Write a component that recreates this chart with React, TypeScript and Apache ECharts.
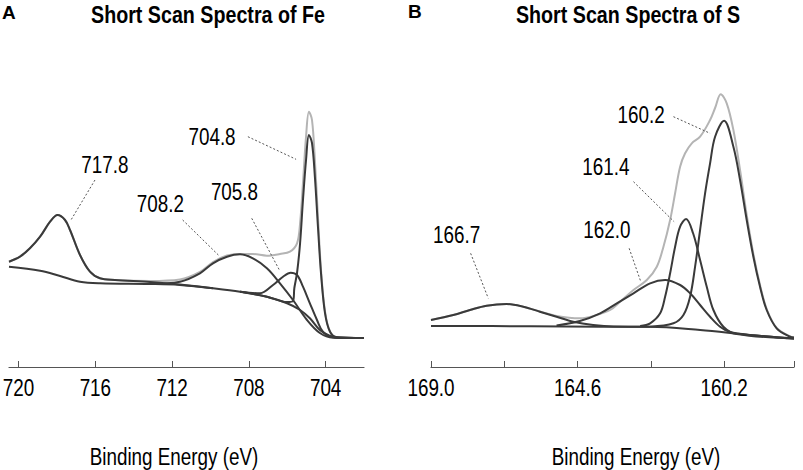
import React, { useEffect, useRef } from "react";
import * as echarts from "echarts";

// ---- Fe 2p panel (A) : [binding energy eV, intensity a.u.] ----
const feEnvelope = [[720.5,105.3],[719.93,110.3],[719.41,118.7],[718.88,130.3],[718.36,145.3],[717.97,152],[717.58,147],[717.32,137],[716.8,112],[716.28,95.3],[715.76,88.7],[714.98,87],[713.15,86],[711.59,87.5],[710.55,95],[709.87,105],[709.14,111.5],[708.46,113],[707.79,113],[707.06,111.3],[706.38,113],[705.86,115.3],[705.49,123.7],[705.33,144],[705.18,184],[705.02,230.3],[704.87,255.3],[704.71,247],[704.56,207],[704.4,150.3],[704.24,97],[704.03,55.3],[703.77,35.3],[703.41,29.7],[702.0,29]];
const feBackground = [[720.5,100.3],[718.88,96.3],[717.84,91],[716.8,85.3],[715.76,83.7],[713.15,83],[711.59,82],[709.87,78.7],[708.46,75.3],[707.06,70.3],[706.01,63.7],[705.33,57],[704.82,48.7],[704.3,37],[703.77,31],[703.25,29],[702.0,29]];
const fe717 = [[720.5,105.3],[719.93,110.3],[719.41,118.7],[718.88,130.3],[718.36,145.3],[717.97,152],[717.58,147],[717.32,137],[716.8,112],[716.28,95.3],[715.76,88.7],[714.98,87],[713.15,85],[711.59,82.5],[709.87,78.8]];
const fe708 = [[713.15,83.2],[711.59,85.3],[710.55,93.7],[709.87,103.7],[709.14,110.3],[708.46,112.7],[707.79,108.7],[707.06,98.7],[706.38,83.7],[705.7,67],[704.97,47],[704.3,34],[703.62,29.3],[702.0,29]];
const fe705 = [[708.46,75.3],[707.42,73.7],[706.74,82],[706.22,90.3],[705.82,94.3],[705.49,92],[705.18,80.3],[704.82,63.7],[704.45,47],[704.14,35.3],[703.62,30],[702.0,29]];
const fe704 = [[708.46,75.3],[707.06,70.3],[706.01,65],[705.7,66],[705.63,79],[705.49,94],[705.33,124],[705.18,167],[705.02,207],[704.87,232],[704.71,224],[704.56,190.3],[704.4,140.3],[704.24,93.7],[704.03,53.7],[703.77,35.3],[703.41,29.7],[702.0,29]];

// ---- S 2p panel (B) ----
const sEnvelope = [[169.0,47],[168.33,52],[167.83,57],[167.33,61.3],[166.73,63],[166.23,60.3],[165.73,55.5],[165.23,51],[164.53,48.7],[164.02,52],[163.62,57],[163.32,65.3],[162.92,77],[162.52,87],[162.22,100.3],[162.02,120.3],[161.82,147],[161.67,173.7],[161.52,200.3],[161.37,213.7],[161.17,223.7],[160.92,230.3],[160.62,247],[160.47,259],[160.3,272.7],[160.12,263.7],[159.92,237],[159.72,197],[159.52,152],[159.32,113],[159.12,82],[158.92,58],[158.62,39],[158.22,30.5],[158.1,29.5]];
const sBackground = [[169.0,41],[166.0,40.8],[163.92,40.3],[162.42,40.3],[160.92,37],[159.42,32],[158.22,28.7],[158.1,28.5]];
const s166 = [[169.0,47],[168.33,52],[167.83,57],[167.33,61.3],[166.73,63],[166.23,60.3],[165.73,55.3],[165.23,50.3],[164.73,45.3],[164.13,42],[163.52,40.5],[162.42,40.3]];
const s162 = [[165.23,41.5],[164.53,46],[163.92,53.7],[163.42,63.7],[162.92,73.7],[162.42,83.7],[161.97,87],[161.52,82],[161.22,73.7],[160.92,62],[160.62,50.3],[160.32,40.3],[160.02,35],[159.42,32],[158.1,28.5]];
const s161 = [[162.72,41],[162.42,43.7],[162.12,53.7],[161.97,70.3],[161.82,93.7],[161.67,120.3],[161.52,140.3],[161.34,148],[161.13,133.7],[160.92,107],[160.72,80.3],[160.52,57],[160.22,40.3],[159.82,33],[158.1,28.5]];
const s160 = [[162.42,40.3],[161.72,43.7],[161.42,52],[161.22,70.3],[161.07,100.3],[160.92,137],[160.77,173.7],[160.62,203.7],[160.47,230.3],[160.2,246.3],[159.92,220.3],[159.72,187],[159.52,147],[159.32,110.3],[159.12,80.3],[158.92,57],[158.62,38.7],[158.22,30.3],[158.1,29.5]];

// ---- annotations ----
const feLabels = ["717.8", "708.2", "705.8", "704.8"];
const feLabelAt = [[715.5,202.7],[712.61,163],[708.75,175.3],[709.92,230.3]];
const feLeaders = [[[716.02,187],[717.27,147]],[[711.45,147],[709.59,112]],[[707.85,148.7],[706.41,97]],[[708.05,230.3],[705.54,207.7]]];
const sLabels = ["166.7", "162.0", "161.4", "160.2"];
const sLabelAt = [[168.23,132],[163.72,137],[163.75,200.3],[162.69,252]];
const sLeaders = [[[167.81,113.7],[167.28,68.7]],[[163.05,118.7],[162.7,85.3]],[[162.92,185.3],[161.7,145.3]],[[161.72,250.3],[160.62,233.7]]];

// ---- axes ----
const feTicks = [704, 708, 712, 716, 720];
const feTickLabels = ["704", "708", "712", "716", "720"];
const sTicks = [158.1, 160.2, 162.4, 164.6, 166.8, 169.0];
const sTickValues = [160.2, 164.6, 169.0];
const sTickLabels = ["160.2", "164.6", "169.0"];
const titles = ["Short Scan Spectra of Fe", "Short Scan Spectra of S"];
const panelLetters = ["A", "B"];
const axisTitle = "Binding Energy (eV)";

const FONT = '"Liberation Sans", Arial, sans-serif';
const NARROW = 0.82;
const DARK = "#3a3a3a";
const LIGHT = "#b4b4b4";
const INK = "#000";

function curve(data: number[][], idx: number, color: string, width = 2) {
  return {
    type: "line",
    xAxisIndex: idx,
    yAxisIndex: idx,
    data,
    symbol: "none",
    smooth: 0.35,
    lineStyle: { color, width },
    silent: true,
    z: color === LIGHT ? 1 : 2,
  };
}

function leader(seg: number[][], idx: number) {
  return {
    type: "line",
    xAxisIndex: idx,
    yAxisIndex: idx,
    data: seg,
    symbol: "none",
    lineStyle: { color: "#555", width: 1, type: [2, 2] },
    silent: true,
    z: 3,
  };
}

// narrow text placed in data coordinates (custom series)
function texts(names: string[], at: number[][], idx: number, dy: number) {
  return {
    type: "custom",
    coordinateSystem: "cartesian2d",
    xAxisIndex: idx,
    yAxisIndex: idx,
    clip: false,
    silent: true,
    z: 4,
    data: at.map((p) => [p[0], p[1]]),
    renderItem: (params: any, api: any) => {
      const c = api.coord([api.value(0), api.value(1)]);
      return {
        type: "text",
        x: c[0],
        y: c[1] + dy,
        scaleX: NARROW,
        style: {
          text: names[params.dataIndex],
          font: `23px ${FONT}`,
          fill: INK,
          align: "center",
          verticalAlign: "middle",
        },
      };
    },
  };
}

function xAxis(idx: number, min: number, max: number, ticks: number[]) {
  return {
    type: "value",
    gridIndex: idx,
    min,
    max,
    inverse: true,
    splitLine: { show: false },
    axisLine: { show: true, lineStyle: { color: "#555", width: 1.2 } },
    axisTick: { show: true, inside: true, length: 6, lineStyle: { color: "#555" }, customValues: ticks },
    axisLabel: { show: false },
  };
}

export default function App() {
  const ref = useRef<HTMLDivElement>(null);
  useEffect(() => {
    if (!ref.current) return;
    const chart = echarts.init(ref.current, undefined, { renderer: "svg" });
    const option = {
      animation: false,
      backgroundColor: "#fff",
      grid: [
        { left: 9, width: 355, top: 67, height: 300, outerBoundsMode: "none", containLabel: false },
        { left: 431, width: 363, top: 67, height: 300, outerBoundsMode: "none", containLabel: false },
      ],
      xAxis: [xAxis(0, 702, 720.5, feTicks), xAxis(1, 158.1, 169.0, sTicks)],
      yAxis: [
        { type: "value", gridIndex: 0, min: 0, max: 300, show: false },
        { type: "value", gridIndex: 1, min: 0, max: 300, show: false },
      ],
      series: [
        curve(feEnvelope, 0, LIGHT),
        curve(feBackground, 0, DARK),
        curve(fe717, 0, DARK),
        curve(fe708, 0, DARK),
        curve(fe705, 0, DARK),
        curve(fe704, 0, DARK),
        ...feLeaders.map((s) => leader(s, 0)),
        texts(feLabels, feLabelAt, 0, 0),
        texts(feTickLabels, feTicks.map((v) => [v, 0]), 0, 21),
        curve(sEnvelope, 1, LIGHT),
        curve(sBackground, 1, DARK),
        curve(s166, 1, DARK),
        curve(s162, 1, DARK),
        curve(s161, 1, DARK),
        curve(s160, 1, DARK),
        ...sLeaders.map((s) => leader(s, 1)),
        texts(sLabels, sLabelAt, 1, 0),
        texts(sTickLabels, sTickValues.map((v) => [v, 0]), 1, 21),
      ],
      graphic: [
        { type: "text", x: 2, y: 12, style: { text: panelLetters[0], font: `bold 19px ${FONT}`, fill: "#000", verticalAlign: "middle" } },
        { type: "text", x: 408, y: 11, style: { text: panelLetters[1], font: `bold 19px ${FONT}`, fill: "#000", verticalAlign: "middle" } },
        { type: "text", x: 208, y: 15, scaleX: NARROW, style: { text: titles[0], font: `bold 24px ${FONT}`, fill: "#000", align: "center", verticalAlign: "middle" } },
        { type: "text", x: 628, y: 15, scaleX: NARROW, style: { text: titles[1], font: `bold 24px ${FONT}`, fill: "#000", align: "center", verticalAlign: "middle" } },
        { type: "text", x: 174, y: 457, scaleX: NARROW, style: { text: axisTitle, font: `23px ${FONT}`, fill: INK, align: "center", verticalAlign: "middle" } },
        { type: "text", x: 636, y: 457, scaleX: NARROW, style: { text: axisTitle, font: `23px ${FONT}`, fill: INK, align: "center", verticalAlign: "middle" } },
      ],
    };
    chart.setOption(option as any);
    return () => chart.dispose();
  }, []);
  return <div ref={ref} style={{ position: "fixed", left: 0, top: 0, width: 803, height: 470 }} />;
}
